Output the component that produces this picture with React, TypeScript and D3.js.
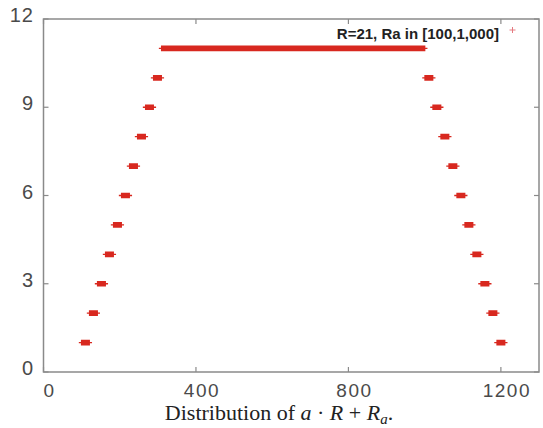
import React from "react";
import * as d3 from "d3";

// Frequency of each value a·R + Ra, grouped into runs of equal count
const segCount = [1, 2, 3, 4, 5, 6, 7, 8, 9, 10, 11, 10, 9, 8, 7, 6, 5, 4, 3, 2, 1];
const segStart = [100, 121, 142, 163, 184, 205, 226, 247, 268, 289, 310, 1001, 1022, 1043, 1064, 1085, 1106, 1127, 1148, 1169, 1190];
const segEnd = [120, 141, 162, 183, 204, 225, 246, 267, 288, 309, 1000, 1021, 1042, 1063, 1084, 1105, 1126, 1147, 1168, 1189, 1210];

const xTicks = [0, 400, 800, 1200];
const yTicks = [0, 3, 6, 9, 12];
const legendLabel = "R=21, Ra in [100,1,000]";

const W = 543;
const H = 428;
const left = 43.5;
const right = 539;
const top = 19;
const bottom = 372;

export default function App() {
  const x = d3.scaleLinear().domain([0, 1300]).range([left, right]);
  const y = d3.scaleLinear().domain([0, 12]).range([bottom, top]);

  const points: { v: number; c: number }[] = [];
  segCount.forEach((c, i) => {
    for (const v of d3.range(segStart[i], segEnd[i] + 1)) points.push({ v, c });
  });

  const arm = 2.8;
  const path = d3.path();
  points.forEach(({ v, c }) => {
    const px = x(v);
    const py = y(c);
    path.moveTo(px - arm, py);
    path.lineTo(px + arm, py);
    path.moveTo(px, py - arm);
    path.lineTo(px, py + arm);
  });

  const red = "#d8281f";
  const axisColor = "#8a8a8a";
  const tickColor = "#4a4a4a";
  const tickLen = 5;

  return (
    <svg width={W} height={H} style={{ position: "absolute", left: 0, top: 0, background: "#fff" }}>
      <path d={path.toString()} stroke={red} strokeWidth={1.4} fill="none" />

      <rect x={left} y={top} width={right - left} height={bottom - top} fill="none" stroke={axisColor} strokeWidth={1.5} />

      {xTicks.map((t) => (
        <g key={"x" + t}>
          <line x1={x(t)} x2={x(t)} y1={bottom} y2={bottom - tickLen} stroke={axisColor} strokeWidth={1.2} />
          <line x1={x(t)} x2={x(t)} y1={top} y2={top + tickLen} stroke={axisColor} strokeWidth={1.2} />
          <text
            x={x(t) + 6}
            y={397}
            textAnchor="middle"
            fontFamily="'Liberation Sans', Arial, sans-serif"
            fontSize={19}
            letterSpacing={1.5}
            fill={tickColor}
          >
            {t}
          </text>
        </g>
      ))}

      {yTicks.map((t) => (
        <g key={"y" + t}>
          <line x1={left} x2={left + tickLen} y1={y(t)} y2={y(t)} stroke={axisColor} strokeWidth={1.2} />
          <line x1={right} x2={right - tickLen} y1={y(t)} y2={y(t)} stroke={axisColor} strokeWidth={1.2} />
          <text
            x={34}
            y={y(t) + 3}
            textAnchor="end"
            fontFamily="'Liberation Sans', Arial, sans-serif"
            fontSize={20}
            letterSpacing={1}
            fill={tickColor}
          >
            {t}
          </text>
        </g>
      ))}

      <text
        x={499}
        y={39}
        textAnchor="end"
        fontFamily="'Liberation Sans', Arial, sans-serif"
        fontSize={15}
        fontWeight="bold"
        fill="#222"
      >
        {legendLabel}
      </text>
      <g stroke="#e57a80" strokeWidth={1}>
        <line x1={509.5} x2={515.5} y1={30} y2={30} />
        <line x1={512.5} x2={512.5} y1={27} y2={33} />
      </g>

      <text
        x={279}
        y={420}
        textAnchor="middle"
        fontFamily="'Liberation Serif', 'Times New Roman', serif"
        fontSize={22}
        fill="#222"
      >
        <tspan>Distribution of </tspan>
        <tspan fontStyle="italic">a</tspan>
        <tspan> · </tspan>
        <tspan fontStyle="italic">R</tspan>
        <tspan> + </tspan>
        <tspan fontStyle="italic">R</tspan>
        <tspan fontStyle="italic" fontSize={15} dy={4}>a</tspan>
        <tspan dy={-4}>.</tspan>
      </text>
    </svg>
  );
}
